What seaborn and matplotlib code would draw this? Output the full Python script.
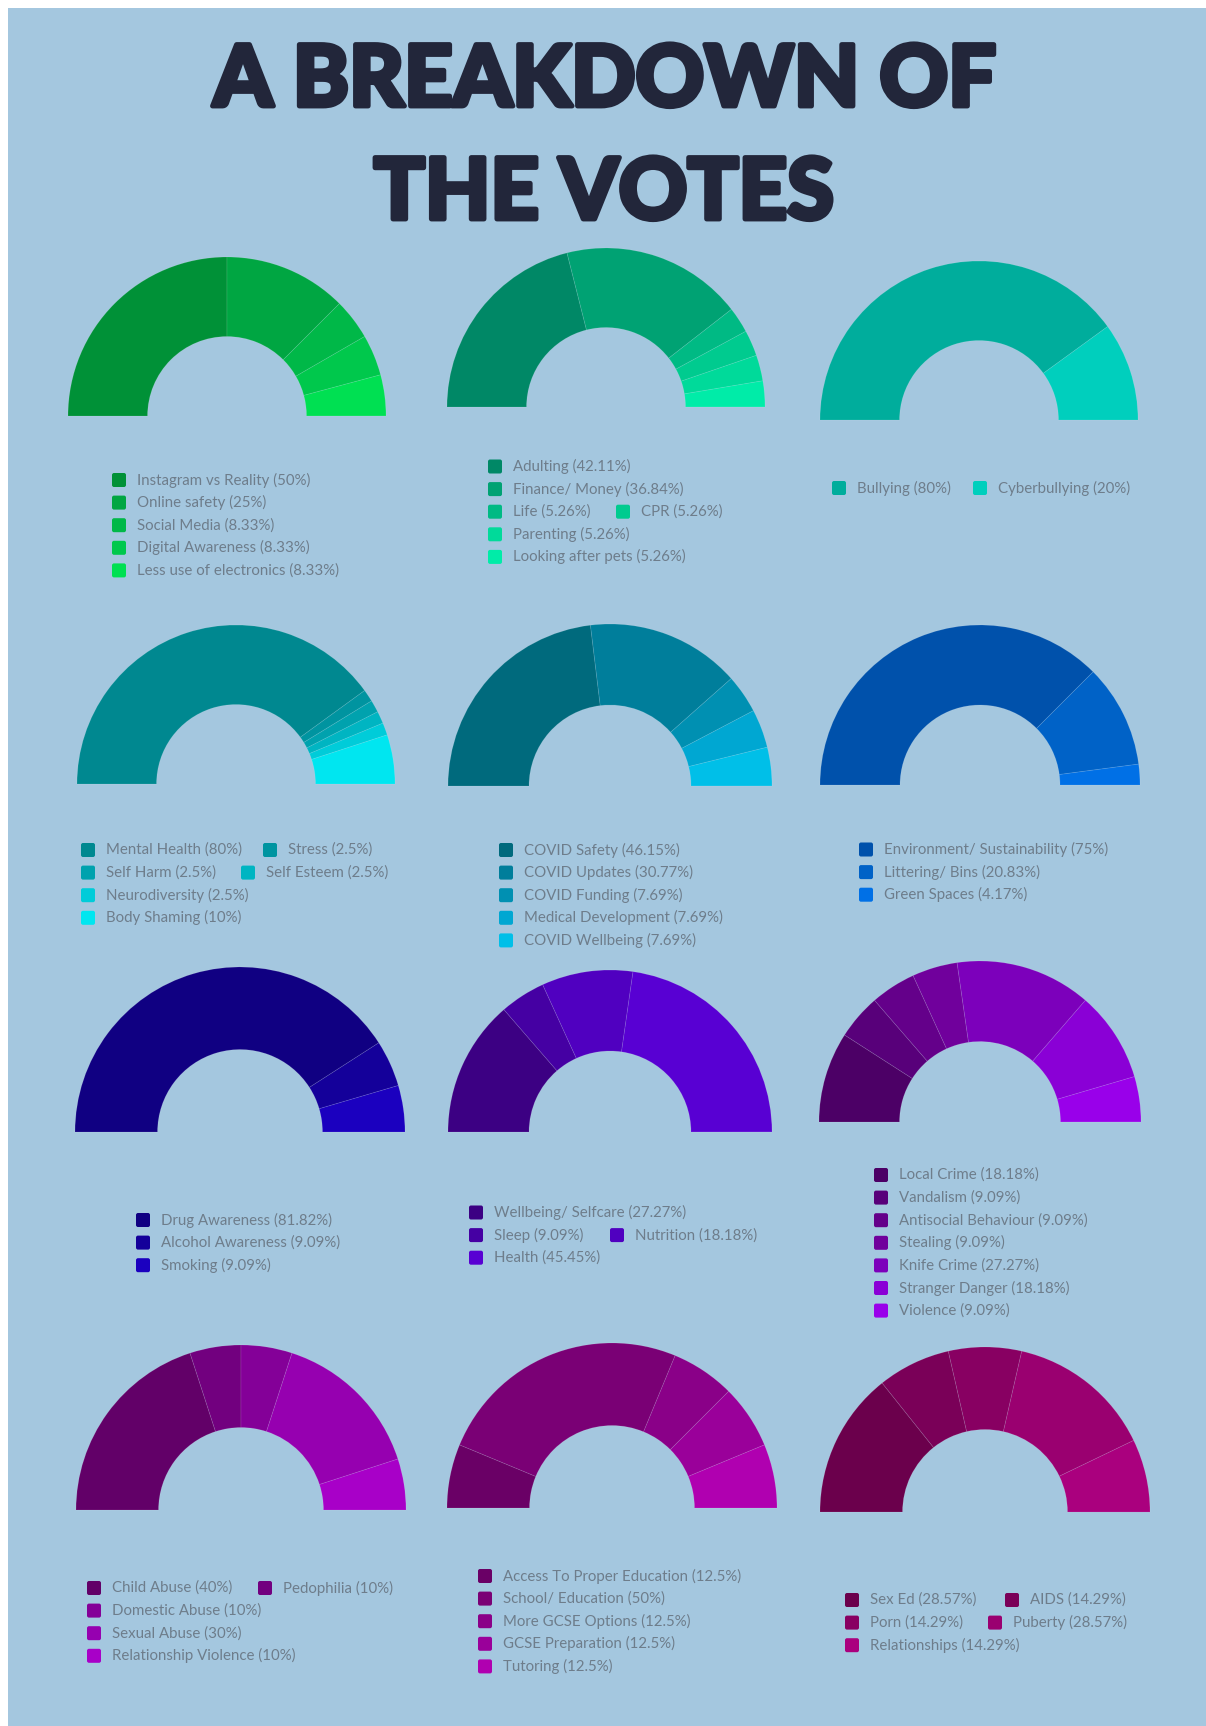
import matplotlib
matplotlib.use("Agg")
import matplotlib.pyplot as plt
import matplotlib.patheffects as pe
from matplotlib.patches import FancyBboxPatch, Rectangle
import seaborn as sns

# ---- data -------------------------------------------------------------
tech_labels = ["Instagram vs Reality", "Online safety", "Social Media",
               "Digital Awareness", "Less use of electronics"]
tech_values = [50, 25, 8.33, 8.33, 8.33]
tech_colors = ["#009137", "#00A642", "#00B848", "#00C84C", "#00E052"]

life_labels = ["Adulting", "Finance/ Money", "Life", "CPR", "Parenting",
               "Looking after pets"]
life_values = [42.11, 36.84, 5.26, 5.26, 5.26, 5.26]
life_colors = ["#008866", "#00A273", "#00BA84", "#00CB8F", "#00DA9A", "#00ECA8"]

bully_labels = ["Bullying", "Cyberbullying"]
bully_values = [80, 20]
bully_colors = ["#00AD9C", "#00CFBD"]

mental_labels = ["Mental Health", "Stress", "Self Harm", "Self Esteem",
                 "Neurodiversity", "Body Shaming"]
mental_values = [80, 2.5, 2.5, 2.5, 2.5, 10]
mental_colors = ["#008890", "#0094A0", "#00A2AE", "#00B5C2", "#00CCD9", "#00E6F0"]

covid_labels = ["COVID Safety", "COVID Updates", "COVID Funding",
                "Medical Development", "COVID Wellbeing"]
covid_values = [46.15, 30.77, 7.69, 7.69, 7.69]
covid_colors = ["#006A7D", "#007E9B", "#0090B2", "#00A7D2", "#00BFE8"]

env_labels = ["Environment/ Sustainability", "Littering/ Bins", "Green Spaces"]
env_values = [75, 20.83, 4.17]
env_colors = ["#0051AB", "#0062C7", "#0070E6"]

drug_labels = ["Drug Awareness", "Alcohol Awareness", "Smoking"]
drug_values = [81.82, 9.09, 9.09]
drug_colors = ["#100082", "#14009A", "#1B00BF"]

health_labels = ["Wellbeing/ Selfcare", "Sleep", "Nutrition", "Health"]
health_values = [27.27, 9.09, 18.18, 45.45]
health_colors = ["#3C0083", "#4500A3", "#5000C0", "#5800D3"]

crime_labels = ["Local Crime", "Vandalism", "Antisocial Behaviour", "Stealing",
                "Knife Crime", "Stranger Danger", "Violence"]
crime_values = [18.18, 9.09, 9.09, 9.09, 27.27, 18.18, 9.09]
crime_colors = ["#4C0066", "#58007A", "#64008A", "#70009C", "#7C00BB",
                "#8A00D6", "#9900EA"]

abuse_labels = ["Child Abuse", "Pedophilia", "Domestic Abuse", "Sexual Abuse",
                "Relationship Violence"]
abuse_values = [40, 10, 10, 30, 10]
abuse_colors = ["#620068", "#72007F", "#840098", "#9600B0", "#A800C8"]

school_labels = ["Access To Proper Education", "School/ Education",
                 "More GCSE Options", "GCSE Preparation", "Tutoring"]
school_values = [12.5, 50, 12.5, 12.5, 12.5]
school_colors = ["#6A0066", "#7A0075", "#8A0088", "#9A009A", "#B000B0"]

sex_labels = ["Sex Ed", "AIDS", "Porn", "Puberty", "Relationships"]
sex_values = [28.57, 14.29, 14.29, 28.57, 14.29]
sex_colors = ["#6B004C", "#7A0058", "#880062", "#9A0070", "#AA007E"]

# ---- layout (pixel coords, y from top) --------------------------------
W, H = 1206, 1726
BG = "#A4C7DF"
TEXT = "#6E7D8B"
TITLE = "#22263A"
STEP = 22.6

# center, radius, legend square x, first row y, rows of items, 2nd column x
panels = [
    (tech_labels, tech_values, tech_colors, (227, 416), 159, 112, 480,
     [[0], [1], [2], [3], [4]], {}),
    (life_labels, life_values, life_colors, (606, 407), 159, 488, 466.5,
     [[0], [1], [2, 3], [4], [5]], {2: 616}),
    (bully_labels, bully_values, bully_colors, (979, 420), 159, 832, 488,
     [[0, 1]], {0: 973}),
    (mental_labels, mental_values, mental_colors, (236, 784), 159, 81, 850,
     [[0, 1], [2, 3], [4], [5]], {0: 263, 1: 241}),
    (covid_labels, covid_values, covid_colors, (610, 786), 162, 499, 850,
     [[0], [1], [2], [3], [4]], {}),
    (env_labels, env_values, env_colors, (980, 785), 160, 859, 849.5,
     [[0], [1], [2]], {}),
    (drug_labels, drug_values, drug_colors, (240, 1132), 165, 136, 1220,
     [[0], [1], [2]], {}),
    (health_labels, health_values, health_colors, (610, 1132), 162, 469, 1212.5,
     [[0], [1, 2], [3]], {1: 610}),
    (crime_labels, crime_values, crime_colors, (980, 1122), 161, 874, 1175,
     [[0], [1], [2], [3], [4], [5], [6]], {}),
    (abuse_labels, abuse_values, abuse_colors, (241, 1510), 165, 87, 1588,
     [[0, 1], [2], [3], [4]], {0: 258}),
    (school_labels, school_values, school_colors, (612, 1508), 165, 478, 1576,
     [[0], [1], [2], [3], [4]], {}),
    (sex_labels, sex_values, sex_colors, (985, 1512), 165, 845, 1600,
     [[0, 1], [2, 3], [4]], {0: 1005, 1: 988}),
]

sns.set_theme(style="white")
plt.rcParams["font.family"] = ["Lato", "DejaVu Sans"]

fig = plt.figure(figsize=(W / 100, H / 100), dpi=100, facecolor="white")
ax = fig.add_axes([0, 0, 1, 1])
ax.add_patch(Rectangle((8, 8), W - 8, H - 8, facecolor=BG, edgecolor="none", zorder=0))

# title (stroke makes the bold face look heavier)
heavy = [pe.withStroke(linewidth=3.5, foreground=TITLE)]
ax.text(605, 106, "A BREAKDOWN OF", ha="center", va="baseline",
        fontsize=61, fontweight="black", color=TITLE, path_effects=heavy)
ax.text(604, 219, "THE VOTES", ha="center", va="baseline",
        fontsize=61, fontweight="black", color=TITLE, path_effects=heavy)

for labels, values, colors, center, radius, lx, ly, rows, col2 in panels:
    pal = sns.color_palette(colors)
    # semicircle: each share is half of a full turn; y axis is inverted,
    # so counterclockwise in data space reads clockwise on the page
    ax.pie([v / 200 for v in values], colors=pal, normalize=False,
           startangle=180, counterclock=True, center=center, radius=radius,
           wedgeprops=dict(width=radius * 0.5, edgecolor=(1, 1, 1, 0.12),
                           linewidth=0.6))
    for r, items in enumerate(rows):
        y = ly + r * STEP
        for k, idx in enumerate(items):
            x = lx if k == 0 else col2[r]
            ax.add_patch(FancyBboxPatch((x, y - 7), 14, 14,
                                        boxstyle="round,pad=0,rounding_size=2",
                                        facecolor=pal[idx], edgecolor="none"))
            ax.text(x + 25, y, f"{labels[idx]} ({values[idx]:g}%)",
                    ha="left", va="center", fontsize=10.8, color=TEXT)

ax.set_xlim(0, W)
ax.set_ylim(H, 0)
ax.set_axis_off()

fig.savefig("out.png", dpi=100, facecolor="white")
